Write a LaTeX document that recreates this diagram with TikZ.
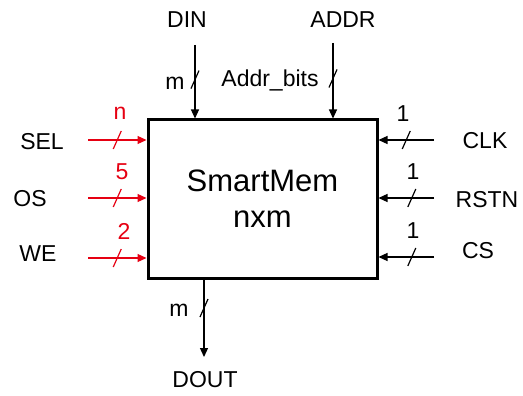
\documentclass[tikz,border=0pt]{standalone}
\usepackage{fontspec}
\setmainfont{Liberation Sans}
\usetikzlibrary{arrows.meta,calc}
\definecolor{sigred}{RGB}{230,0,18}
\begin{document}
\begin{tikzpicture}[x=1pt,y=-1pt,
  lbl/.style={font=\fontsize{23}{27}\selectfont, inner sep=0pt, anchor=center},
  wire/.style={line width=1.2pt, -{Triangle[length=9pt,width=8pt]}},
  slashln/.style={line width=1.2pt},
  blk/.style={draw, line width=3pt, rectangle, minimum width=229pt, minimum height=158pt, inner sep=0pt, align=center, font=\fontsize{31}{36}\selectfont}]
\useasboundingbox (0,0) rectangle (523,396);
\node[blk] (box) at (262.5,199) {SmartMem\\nxm};
% top
\node[lbl] (din) at (187,20) {DIN};
\node[lbl] (addr) at (343,20) {ADDR};
\coordinate (dinS) at (195,45);
\coordinate (addrS) at (333,43);
\draw[wire] (dinS) -- (dinS |- box.north) coordinate[pos=0.47] (s1);
\draw[wire] (addrS) -- (addrS |- box.north) coordinate[pos=0.47] (s2);
\node[lbl] (m1) at (175,83) {m};
\node[lbl] (ab) at (270,80) {Addr\_bits};
% bottom
\coordinate (doutS) at (204,278);
\coordinate (doutE) at (204,357);
\draw[wire] (doutS) -- (doutE) coordinate[pos=0.38] (s3);
\node[lbl] (m2) at (179,310) {m};
\node[lbl] (dout) at (205,380) {DOUT};
% left
\node[lbl] (sel) at (42,142) {SEL};
\node[lbl] (os) at (30,199) {OS};
\node[lbl] (we) at (38,254) {WE};
\coordinate (selS) at (88,140);
\coordinate (osS) at (88,198);
\coordinate (weS) at (88,258);
\draw[wire,sigred] (selS) -- (selS -| box.west) coordinate[pos=0.5] (l1);
\draw[wire,sigred] (osS) -- (osS -| box.west) coordinate[pos=0.5] (l2);
\draw[wire,sigred] (weS) -- (weS -| box.west) coordinate[pos=0.5] (l3);
\node[lbl,sigred] (nn) at (120,113) {n};
\node[lbl,sigred] (n5) at (122,172) {5};
\node[lbl,sigred] (n2) at (124,231) {2};
% right
\node[lbl] (clk) at (485,141) {CLK};
\node[lbl] (rstn) at (487,200) {RSTN};
\node[lbl] (cs) at (478,251) {CS};
\coordinate (clkS) at (434,140);
\coordinate (rstnS) at (434,198);
\coordinate (csS) at (434,257);
\draw[wire] (clkS) -- (clkS -| box.east) coordinate[pos=0.5] (r1);
\draw[wire] (rstnS) -- (rstnS -| box.east) coordinate[pos=0.4] (r2);
\draw[wire] (csS) -- (csS -| box.east) coordinate[pos=0.4] (r3);
\node[lbl] (o1) at (403,114) {1};
\node[lbl] (o2) at (413,172) {1};
\node[lbl] (o3) at (413,231) {1};
% slashes
\foreach \c/\col in {s1/black,s2/black,s3/black,r1/black,r2/black,r3/black,l1/sigred,l2/sigred,l3/sigred}{
  \draw[slashln,\col] ($(\c)+(-4,9)$) -- ($(\c)+(4,-9)$);
}
\end{tikzpicture}
\end{document}
